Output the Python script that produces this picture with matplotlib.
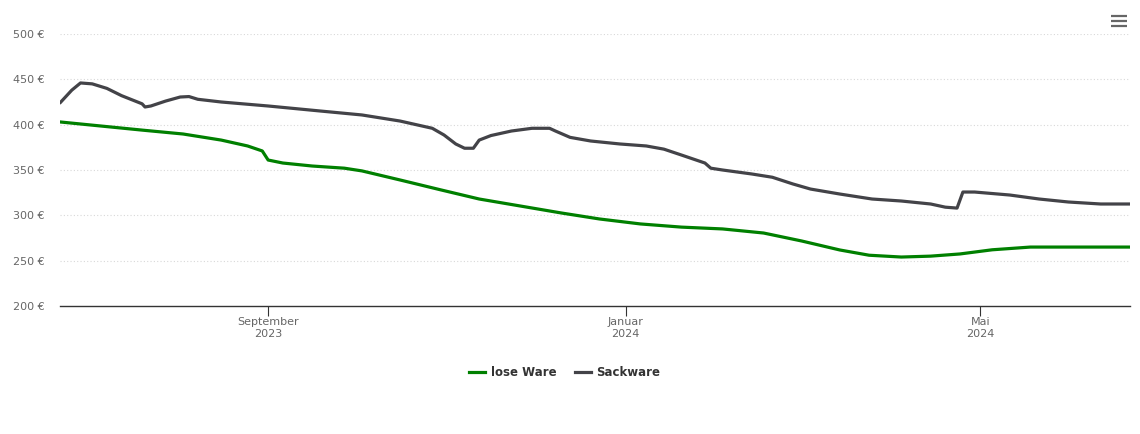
import matplotlib.pyplot as plt
import pandas as pd
from matplotlib.lines import Line2D

# values
loose_dates = [
    "2023-06-22", "2023-07-06", "2023-07-20", "2023-08-03", "2023-08-16",
    "2023-08-25", "2023-08-30", "2023-09-01", "2023-09-06", "2023-09-16",
    "2023-09-27", "2023-10-03", "2023-10-16", "2023-10-30", "2023-11-12",
    "2023-11-26", "2023-12-10", "2023-12-23", "2024-01-06", "2024-01-20",
    "2024-02-03", "2024-02-17", "2024-03-01", "2024-03-14", "2024-03-24",
    "2024-04-04", "2024-04-14", "2024-04-24", "2024-05-05", "2024-05-18",
    "2024-05-29", "2024-06-21",
]
loose_values = [
    403, 398.5, 394, 389.7, 383,
    376.5, 371, 361, 357.7, 354.4,
    352, 349, 339, 328, 318,
    310.3, 302.6, 296, 290.5, 287,
    285, 280.5, 271.7, 261.8, 256,
    254, 255, 257.4, 262, 265,
    265, 265,
]

sack_dates = [
    "2023-06-22", "2023-06-26", "2023-06-29", "2023-07-03", "2023-07-08",
    "2023-07-13", "2023-07-20", "2023-07-21", "2023-07-23", "2023-07-28",
    "2023-08-02", "2023-08-05", "2023-08-08", "2023-08-16", "2023-09-01",
    "2023-09-19", "2023-10-03", "2023-10-16", "2023-10-27", "2023-10-31",
    "2023-11-04", "2023-11-07", "2023-11-10", "2023-11-12", "2023-11-16",
    "2023-11-23", "2023-11-30", "2023-12-06", "2023-12-08", "2023-12-13",
    "2023-12-20", "2023-12-30", "2024-01-08", "2024-01-14", "2024-01-20",
    "2024-01-28", "2024-01-30", "2024-02-03", "2024-02-13", "2024-02-20",
    "2024-02-27", "2024-03-04", "2024-03-14", "2024-03-25", "2024-04-04",
    "2024-04-14", "2024-04-19", "2024-04-23", "2024-04-25", "2024-04-29",
    "2024-05-11", "2024-05-21", "2024-05-31", "2024-06-11", "2024-06-21",
]
sack_values = [
    424, 438, 446, 445, 440,
    432, 423, 419.5, 420.6, 426,
    430.5, 431, 428, 425, 420.6,
    415, 410.7, 404, 396, 388.6,
    378.7, 374, 374, 383, 388,
    393, 396, 396, 393, 386,
    382, 378.7, 376.5, 373, 366.5,
    357.7, 352, 350, 345.6, 342,
    334.6, 329, 323.5, 318, 315.8,
    312.5, 309, 308, 325.7, 325.7,
    322.4, 318, 314.7, 312.5, 312.5,
]

y_ticks = [200, 250, 300, 350, 400, 450, 500]
x_ticks = ["2023-09-01", "2024-01-01", "2024-05-01"]
x_labels = ["September\n2023", "Januar\n2024", "Mai\n2024"]

W, H = 1140, 434
fig = plt.figure(figsize=(W / 100, H / 100), dpi=100)
ax = fig.add_axes([60 / W, 1 - 306 / H, 1070 / W, 272 / H])

ax.plot(pd.to_datetime(loose_dates), loose_values, color="#008000",
        lw=2.3, solid_joinstyle="round", solid_capstyle="round",
        label="lose Ware", zorder=3)
ax.plot(pd.to_datetime(sack_dates), sack_values, color="#434348",
        lw=2.3, solid_joinstyle="round", solid_capstyle="round",
        label="Sackware", zorder=3)

ax.set_xlim(pd.Timestamp("2023-06-22"), pd.Timestamp("2024-06-21"))
ax.set_ylim(200, 500)

ax.set_yticks(y_ticks)
ax.set_yticklabels([f"{v} €" for v in y_ticks])
ax.set_xticks(pd.to_datetime(x_ticks))
ax.set_xticklabels(x_labels)

for v in y_ticks[1:]:
    ax.axhline(v, color="#d8d8d8", lw=0.8, ls=(0, (1, 2)), zorder=1)

for side in ["top", "right", "left"]:
    ax.spines[side].set_visible(False)
ax.spines["bottom"].set_color("#333333")
ax.spines["bottom"].set_linewidth(1)

ax.tick_params(axis="y", length=0, pad=11, labelsize=8, labelcolor="#666666")
ax.tick_params(axis="x", length=7, width=0.8, color="#333333", pad=1,
               labelsize=8, labelcolor="#666666")

handles = [
    Line2D([], [], color="#008000", lw=2.3),
    Line2D([], [], color="#434348", lw=2.3),
]
leg = fig.legend(handles, ["lose Ware", "Sackware"], loc="center",
                 bbox_to_anchor=(565 / W, 1 - 373 / H), ncol=2, frameon=False,
                 handlelength=1.3, handletextpad=0.5, columnspacing=1.6,
                 prop={"weight": "bold", "size": 8.5})
for t in leg.get_texts():
    t.set_color("#333333")

# hamburger menu icon
for yy in [16, 21, 26]:
    fig.add_artist(Line2D([1111 / W, 1127 / W], [1 - yy / H, 1 - yy / H],
                          color="#666666", lw=1.6, solid_capstyle="butt"))

fig.savefig("out.png", dpi=100)
